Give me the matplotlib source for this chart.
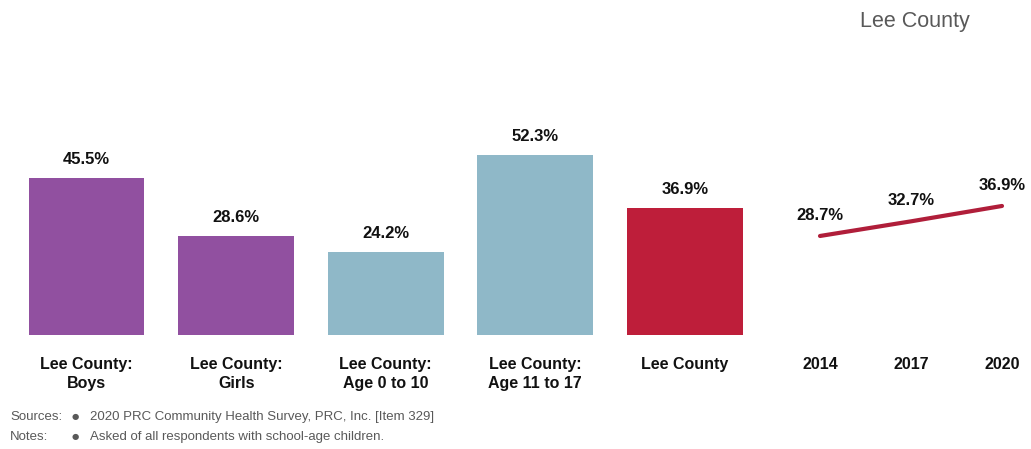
import matplotlib
matplotlib.use("Agg")
import matplotlib.pyplot as plt

categories = ["Lee County:\nBoys", "Lee County:\nGirls", "Lee County:\nAge 0 to 10",
              "Lee County:\nAge 11 to 17", "Lee County"]
values = [45.5, 28.6, 24.2, 52.3, 36.9]
bar_colors = ["#9150A0", "#9150A0", "#8FB8C8", "#8FB8C8", "#BE1E3A"]

years = ["2014", "2017", "2020"]
trend = [28.7, 32.7, 36.9]

title = "Lee County"
sources = "2020 PRC Community Health Survey, PRC, Inc. [Item 329]"
notes = "Asked of all respondents with school-age children."

plt.rcParams['font.family'] = ['Liberation Sans', 'DejaVu Sans']

W, H = 1031, 449
fig = plt.figure(figsize=(W / 100, H / 100), dpi=100)

def axes_px(x0, y0, x1, y1):
    return fig.add_axes([x0 / W, 1 - y1 / H, (x1 - x0) / W, (y1 - y0) / H])

# Bar chart
ax = axes_px(11.7, 128, 759.8, 335)
xs = range(len(values))
ax.bar(xs, values, width=0.775, color=bar_colors)
ax.set_xlim(-0.5, len(values) - 0.5)
ax.set_ylim(0, 60)
for x, v in zip(xs, values):
    ax.annotate(f"{v:.1f}%", (x, v), xytext=(0, 11), textcoords="offset pixels",
                ha="center", va="bottom", fontsize=12, fontweight="bold", color="#111111")
ax.set_xticks(list(xs))
ax.set_xticklabels(categories, fontsize=11.5, fontweight="bold", color="#111111",
                   linespacing=1.35, va="top")
ax.tick_params(axis="x", length=0, pad=15.5)
ax.set_yticks([])
for s in ax.spines.values():
    s.set_visible(False)

# Trend line
lx = axes_px(774.5, 128, 1047.5, 335)
lxs = range(len(trend))
lx.plot(lxs, trend, color="#B01E3A", linewidth=3, solid_capstyle="round")
lx.set_xlim(-0.5, len(trend) - 0.5)
lx.set_ylim(1.65, 58.2)
for x, v in zip(lxs, trend):
    lx.annotate(f"{v:.1f}%", (x, v), xytext=(0, 13), textcoords="offset pixels",
                ha="center", va="bottom", fontsize=12, fontweight="bold", color="#111111")
lx.set_xticks(list(lxs))
lx.set_xticklabels(years, fontsize=11.5, fontweight="bold", color="#111111", va="top")
lx.tick_params(axis="x", length=0, pad=15.5)
lx.set_yticks([])
for s in lx.spines.values():
    s.set_visible(False)
lx.patch.set_alpha(0)

# Title
fig.text(970 / W, 1 - 21 / H, title, ha="right", va="center", fontsize=15.5, color="#595959")

# Footer
fc = "#595959"
fs = 9.5
fig.text(10 / W, 1 - 417 / H, "Sources:", ha="left", va="center", fontsize=fs, color=fc)
fig.text(10 / W, 1 - 437 / H, "Notes:", ha="left", va="center", fontsize=fs, color=fc)
fig.text(72 / W, 1 - 417 / H, "\u25CF", ha="left", va="center", fontsize=6, color=fc,
         family=['DejaVu Sans'])
fig.text(72 / W, 1 - 437 / H, "\u25CF", ha="left", va="center", fontsize=6, color=fc,
         family=['DejaVu Sans'])
fig.text(90 / W, 1 - 417 / H, sources, ha="left", va="center", fontsize=fs, color=fc)
fig.text(90 / W, 1 - 437 / H, notes, ha="left", va="center", fontsize=fs, color=fc)

fig.savefig("out.png", dpi=100)
